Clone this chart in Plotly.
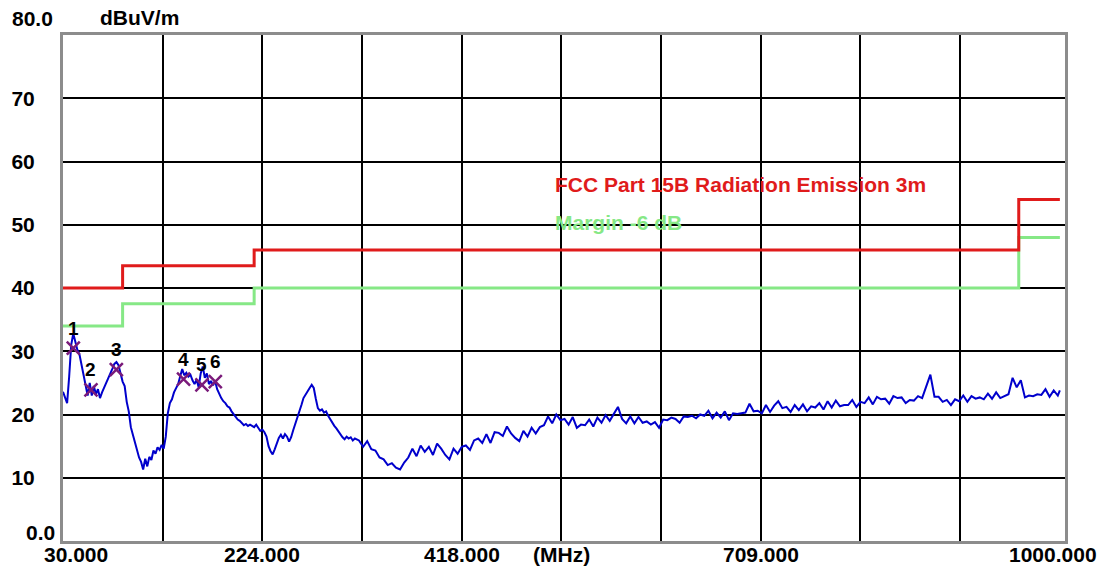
import plotly.graph_objects as go

# ---------------- data ----------------
FREQ_LOW = [30, 32, 34, 36, 38, 40, 42, 44, 46, 48,
            50, 52, 54, 56, 58, 60, 62, 64, 66, 68,
            70, 72, 74, 76, 78, 80, 82, 84, 86, 88,
            90, 92, 94, 96, 98, 100, 102, 104, 106, 108,
            110, 112, 114, 116, 118, 120, 122, 124, 126, 128,
            130, 132, 134, 136, 138, 140, 142, 144, 146, 148,
            150, 152, 154, 156, 158, 160, 162, 164, 166, 168,
            170, 172, 174, 176, 178, 180, 182, 184, 186, 188,
            190, 192, 194, 196, 198, 200, 202, 204, 206, 208,
            210, 212, 214, 216, 218, 220, 222, 224, 226, 228,
            230, 232, 234, 236, 238, 240, 242, 244, 246, 248,
            250, 252, 254, 256, 258, 260, 262, 264, 266, 268,
            270, 272, 274, 276, 278, 280, 282, 284, 286, 288,
            290, 292, 294, 296, 298, 300, 302, 304, 306, 308,
            310, 312, 314]
LEVEL_LOW = [23.6, 22.5, 21.8, 26.0, 31.0, 32.8, 31.5, 30.2, 29.5, 28.0,
             26.5, 24.5, 23.0, 25.0, 23.0, 24.5, 23.2, 24.0, 22.6, 23.5,
             24.2, 25.0, 25.8, 26.5, 27.2, 28.0, 28.3, 27.8, 26.5, 25.2,
             24.5, 22.0, 20.5, 18.0, 16.8, 15.5, 14.5, 13.2, 12.5, 11.3,
             13.0, 11.8, 13.3, 12.8, 14.3, 13.8, 14.8, 14.4, 15.2, 14.6,
             16.5, 20.2, 21.8, 22.4, 23.5, 24.2, 24.8, 26.0, 27.2, 26.2,
             26.6, 26.0, 26.3, 25.4, 24.8, 25.5, 24.3, 26.5, 27.6, 25.8,
             26.5, 24.8, 25.3, 24.6, 25.3, 24.0, 23.2, 22.6, 22.1, 21.8,
             21.3, 21.1, 20.5, 20.0, 19.6, 19.2, 19.0, 18.6, 18.3, 18.5,
             18.2, 18.4, 18.2, 18.0, 18.4, 17.9, 17.4, 17.6, 17.2, 16.5,
             15.0, 14.2, 13.7, 14.5, 15.5, 16.3, 16.8, 16.2, 16.9, 16.5,
             15.7, 16.4, 17.5, 18.5, 19.4, 20.2, 21.5, 22.6, 23.2, 23.8,
             24.2, 24.7, 24.2, 22.5, 21.0, 20.6, 20.8, 20.3, 20.5, 19.8,
             19.2, 18.8, 18.2, 17.8, 17.3, 16.8, 16.4, 16.1, 16.5, 16.2,
             16.4, 15.9, 16.2]

FREQ_HIGH = [318, 322, 326, 330, 334, 338, 342, 346, 350, 354,
             358, 362, 366, 370, 374, 378, 382, 386, 390, 394,
             398, 402, 406, 410, 414, 418, 422, 426, 430, 434,
             438, 442, 446, 450, 454, 458, 462, 466, 470, 474,
             478, 482, 486, 490, 494, 498, 502, 506, 510, 514,
             518, 522, 526, 530, 534, 538, 542, 546, 550, 554,
             558, 562, 566, 570, 574, 578, 582, 586, 590, 594,
             598, 602, 606, 610, 614, 618, 622, 626, 630, 634,
             638, 642, 646, 650, 654, 658, 662, 666, 670, 674,
             678, 682, 686, 690, 694, 698, 702, 706, 710, 714,
             718, 722, 726, 730, 734, 738, 742, 746, 750, 754,
             758, 762, 766, 770, 774, 778, 782, 786, 790, 794,
             798, 802, 806, 810, 814, 818, 822, 826, 830, 834,
             838, 842, 846, 850, 854, 858, 862, 866, 870, 874,
             878, 882, 886, 890, 894, 898, 902, 906, 910, 914,
             918, 922, 926, 930, 934, 938, 942, 946, 950, 954,
             958, 962, 966, 970, 974, 978, 982, 986, 990, 994,
             998, 1000]
LEVEL_HIGH = [15.9, 14.9, 15.8, 14.5, 14.3, 13.2, 12.9, 12.0, 12.3, 11.6,
              11.3, 12.4, 13.2, 14.6, 13.4, 15.1, 14.1, 14.9, 13.6, 15.4,
              14.6, 13.6, 12.9, 14.6, 13.8, 14.9, 15.1, 14.4, 15.9, 16.2,
              15.5, 16.9, 15.5, 17.2, 17.1, 16.6, 18.1, 17.0, 16.3, 15.8,
              17.4, 16.5, 17.9, 17.0, 18.0, 18.3, 19.7, 18.6, 20.0, 19.1,
              19.3, 18.4, 19.6, 17.9, 18.4, 18.3, 19.2, 18.1, 19.5, 18.7,
              19.9, 19.0, 20.1, 21.2, 19.3, 18.6, 19.7, 18.6, 19.6, 18.7,
              18.9, 18.4, 18.8, 17.9, 19.2, 19.1, 19.5, 19.3, 18.7, 19.7,
              19.6, 19.8, 19.4, 20.0, 19.8, 20.6, 19.4, 20.3, 19.5, 20.5,
              19.1, 20.2, 20.1, 20.2, 20.3, 21.7, 20.5, 20.6, 20.2, 21.5,
              20.4, 21.4, 22.1, 21.0, 21.2, 20.4, 21.5, 20.7, 21.6, 20.5,
              21.3, 21.1, 21.8, 20.8, 22.1, 21.1, 22.2, 21.3, 21.5, 21.5,
              22.3, 21.2, 22.0, 21.8, 22.7, 21.6, 22.8, 22.4, 22.5, 21.7,
              22.9, 22.6, 22.7, 21.8, 22.3, 22.2, 22.9, 22.6, 24.3, 26.3,
              22.8, 22.8, 22.0, 22.3, 21.5, 22.4, 22.1, 23.0, 22.0, 22.9,
              22.5, 22.7, 22.4, 23.3, 22.5, 23.5, 22.6, 22.9, 23.2, 25.8,
              24.3, 25.4, 22.7, 23.0, 22.9, 23.2, 23.1, 24.0, 22.8, 23.8,
              23.0, 23.8]

LIMIT_FREQ = [30, 88, 216, 960, 1000]
LIMIT_LEVEL = [40.0, 43.5, 46.0, 54.0, 54.0]
MARGIN_LEVEL = [34.0, 37.5, 40.0, 48.0, 48.0]

MK_FREQ = [40.0, 57.2, 81.9, 147.3, 165.2, 178.2]
MK_LEVEL = [30.5, 23.9, 27.1, 25.6, 24.7, 25.2]
MK_LABEL = ["1", "2", "3", "4", "5", "6"]

X_GRID = [127, 224, 321, 418, 515, 612, 709, 806, 903]
X_LABEL_POS = [224, 418, 515, 709]
X_LABEL_TEXT = ["224.000", "418.000", "(MHz)", "709.000"]
Y_TICKS = [10, 20, 30, 40, 50, 60, 70]
Y_TEXT = ["10", "20", "30", "40", "50", "60", "70"]

RED = "#e01b1b"
GREEN = "#86e886"
BLUE = "#0000cc"
PURPLE = "#7a1a7a"
FONT = "Liberation Sans"

# ---------------- figure ----------------
fig = go.Figure()

fig.add_trace(go.Scatter(x=FREQ_LOW + FREQ_HIGH, y=LEVEL_LOW + LEVEL_HIGH,
                         mode="lines", line=dict(color=BLUE, width=2),
                         showlegend=False, hoverinfo="skip"))
fig.add_trace(go.Scatter(x=LIMIT_FREQ, y=MARGIN_LEVEL, mode="lines",
                         line=dict(color=GREEN, width=3, shape="hv"),
                         showlegend=False))
fig.add_trace(go.Scatter(x=LIMIT_FREQ, y=LIMIT_LEVEL, mode="lines",
                         line=dict(color=RED, width=3, shape="hv"),
                         showlegend=False))
fig.add_trace(go.Scatter(x=MK_FREQ, y=MK_LEVEL, mode="markers",
                         marker=dict(symbol="x-thin-open", size=13,
                                     color=PURPLE,
                                     line=dict(color=PURPLE, width=2.5)),
                         showlegend=False))

annotations = []
for f, l, t in zip(MK_FREQ, MK_LEVEL, MK_LABEL):
    annotations.append(dict(x=f, y=l, text=t, showarrow=False, yshift=20,
                            font=dict(family=FONT, size=19, color="black",
                                      weight="bold")))

W, H = 1002.0, 506.0
L, T = 63.0, 35.0


def px(x):
    return (x - L) / W


def py(y):
    return (T + H - y) / H


bold = dict(family=FONT, size=21, color="black", weight="bold")

for xv, txt in zip(X_LABEL_POS, X_LABEL_TEXT):
    annotations.append(dict(x=xv, y=py(554), xref="x", yref="paper", text=txt,
                            xanchor="center", yanchor="middle",
                            showarrow=False, font=bold))

annotations += [
    dict(x=px(10), y=py(19), xref="paper", yref="paper", text="80.0",
         xanchor="left", yanchor="middle", showarrow=False, font=bold),
    dict(x=px(98), y=py(18), xref="paper", yref="paper", text="dBuV/m",
         xanchor="left", yanchor="middle", showarrow=False, font=bold),
    dict(x=px(57), y=py(532), xref="paper", yref="paper", text="0.0",
         xanchor="right", yanchor="middle", showarrow=False, font=bold),
    dict(x=px(76), y=py(554), xref="paper", yref="paper", text="30.000",
         xanchor="center", yanchor="middle", showarrow=False, font=bold),
    dict(x=px(1099), y=py(554), xref="paper", yref="paper", text="1000.000",
         xanchor="right", yanchor="middle", showarrow=False, font=bold),
    dict(x=px(553), y=py(185), xref="paper", yref="paper",
         text="FCC Part 15B Radiation Emission 3m",
         xanchor="left", yanchor="middle", showarrow=False,
         font=dict(family=FONT, size=21, color=RED, weight="bold")),
    dict(x=px(553), y=py(222), xref="paper", yref="paper",
         text="Margin -6 dB",
         xanchor="left", yanchor="middle", showarrow=False,
         font=dict(family=FONT, size=21, color=GREEN, weight="bold")),
]

fig.update_layout(
    width=1104, height=571,
    margin=dict(l=L, r=1104 - L - W, t=T, b=571 - T - H, pad=0,
                autoexpand=False),
    paper_bgcolor="white", plot_bgcolor="white",
    annotations=annotations,
    showlegend=False,
)

fig.update_xaxes(range=[30, 1005], tickvals=X_GRID,
                 showticklabels=False,
                 showgrid=True, gridcolor="black", gridwidth=1.5,
                 zeroline=False, ticks="", automargin=False,
                 showline=True, mirror=True, linecolor="#8c8c8c", linewidth=3)
fig.update_yaxes(range=[0, 80], tickvals=Y_TICKS, ticktext=Y_TEXT,
                 showgrid=True, gridcolor="black", gridwidth=1.5,
                 zeroline=False, ticks="outside", ticklen=21,
                 tickcolor="rgba(0,0,0,0)", automargin=False,
                 showline=True, mirror=True, linecolor="#8c8c8c", linewidth=3,
                 tickfont=bold)

fig.write_html("out.html")
